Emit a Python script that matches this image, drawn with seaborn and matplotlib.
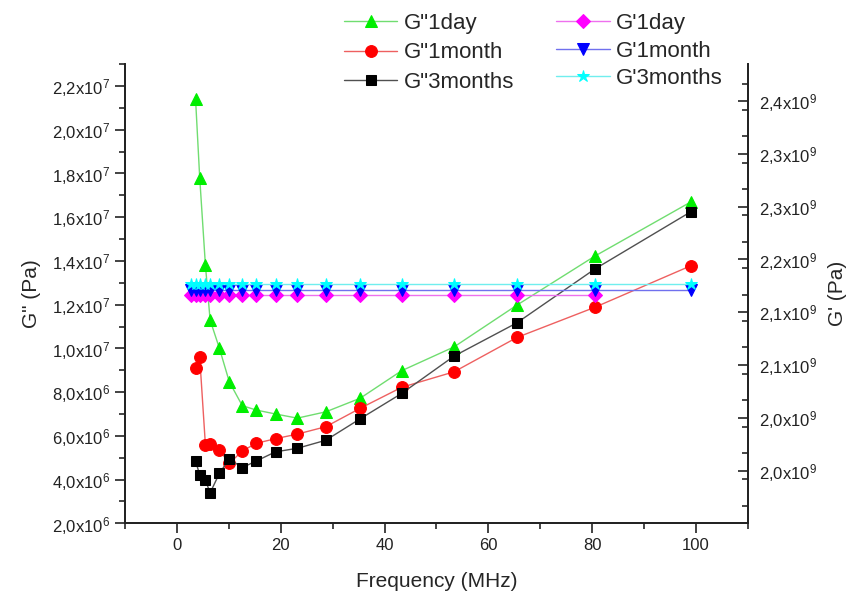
import numpy as np
import pandas as pd
import seaborn as sns
import matplotlib.pyplot as plt
from matplotlib.ticker import FixedLocator, FixedFormatter, MultipleLocator

# frequencies (MHz)
freq = [3.6, 4.4, 5.5, 6.4, 8.2, 10.1, 12.6, 15.3, 19.0, 23.2, 28.7, 35.3, 43.3, 53.4, 65.5, 80.5, 99.0]
freq_gp = [2.8, 3.6, 4.4, 5.5, 6.4, 8.2, 10.1, 12.6, 15.3, 19.0, 23.2, 28.7, 35.3, 43.3, 53.4, 65.5, 80.5, 99.0]

# G'' (x1e6 Pa)
g2_1day = [21.4, 17.8, 13.8, 11.3, 10.0, 8.47, 7.38, 7.18, 7.00, 6.81, 7.10, 7.72, 8.98, 10.07, 11.98, 14.22, 16.70]
g2_1month = [9.09, 9.59, 5.57, 5.61, 5.35, 4.74, 5.31, 5.66, 5.87, 6.08, 6.42, 7.26, 8.22, 8.93, 10.5, 11.88, 13.78]
g2_3months = [4.86, 4.21, 3.98, 3.39, 4.29, 4.94, 4.55, 4.85, 5.27, 5.43, 5.80, 6.78, 7.94, 9.65, 11.17, 13.63, 16.25]

# G' (x1e9 Pa)
g1_1day = [2.160, 2.160, 2.160, 2.160, 2.160, 2.160, 2.160, 2.160, 2.160, 2.160, 2.160, 2.160, 2.160, 2.160, 2.160, 2.160, 2.160]
g1_1month = [2.165, 2.165, 2.165, 2.165, 2.165, 2.165, 2.165, 2.165, 2.165, 2.165, 2.165, 2.165, 2.165, 2.165, 2.165, 2.165, 2.165, 2.165]
g1_3months = [2.172, 2.172, 2.172, 2.172, 2.172, 2.172, 2.172, 2.172, 2.172, 2.172, 2.172, 2.172, 2.172, 2.172, 2.172, 2.172, 2.172, 2.172]

left_ticks = [2e6, 4e6, 6e6, 8e6, 1e7, 1.2e7, 1.4e7, 1.6e7, 1.8e7, 2.0e7, 2.2e7]
left_labels = ['2,0x10$^6$', '4,0x10$^6$', '6,0x10$^6$', '8,0x10$^6$', '1,0x10$^7$', '1,2x10$^7$',
               '1,4x10$^7$', '1,6x10$^7$', '1,8x10$^7$', '2,0x10$^7$', '2,2x10$^7$']
right_ticks = [2.38e9, 2.32e9, 2.26e9, 2.20e9, 2.14e9, 2.08e9, 2.02e9, 1.96e9]
right_labels = ['2,4x10$^9$', '2,3x10$^9$', '2,3x10$^9$', '2,2x10$^9$', '2,1x10$^9$', '2,1x10$^9$',
                '2,0x10$^9$', '2,0x10$^9$']

sns.set_style('ticks')
plt.rcParams['font.family'] = ['Liberation Sans', 'DejaVu Sans']
plt.rcParams['mathtext.default'] = 'regular'

fig = plt.figure(figsize=(8.5, 5.94), dpi=100)
ax = fig.add_axes([0.147, 0.119, 0.733, 0.773])
ax2 = ax.twinx()

s1 = [
    (g2_1day, 'G"1day', '^', '#00ee00', '#70dd70', 9),
    (g2_1month, 'G"1month', 'o', '#ff0000', '#ee6060', 8.5),
    (g2_3months, 'G"3months', 's', '#000000', '#505050', 7),
]
for vals, lab, mk, c, lc, ms in s1:
    sns.lineplot(x=freq, y=np.array(vals) * 1e6, ax=ax, color=lc, lw=1, marker=mk,
                 markersize=ms, markerfacecolor=c, markeredgecolor=c, label=lab, legend=False)

s2 = [
    (freq_gp[:-1], g1_1day, "G'1day", 'D', '#ff00ff', '#ee70ee', 7),
    (freq_gp, g1_1month, "G'1month", 'v', '#0000ff', '#7070ee', 8),
    (freq_gp, g1_3months, "G'3months", '*', '#00ffff', '#70eeee', 9),
]
for xs, vals, lab, mk, c, lc, ms in s2:
    sns.lineplot(x=xs, y=np.array(vals) * 1e9, ax=ax2, color=lc, lw=1, marker=mk,
                 markersize=ms, markerfacecolor=c, markeredgecolor=c, label=lab, legend=False)

ax.set_xlim(-10, 110)
ax.set_ylim(2e6, 2.3e7)
ax2.set_ylim(1.90e9, 2.422e9)

ax.xaxis.set_major_locator(MultipleLocator(20))
ax.xaxis.set_minor_locator(MultipleLocator(10))
ax.yaxis.set_major_locator(FixedLocator(left_ticks))
ax.yaxis.set_major_formatter(FixedFormatter(left_labels))
ax.yaxis.set_minor_locator(MultipleLocator(1e6))
ax2.yaxis.set_major_locator(FixedLocator(right_ticks))
ax2.yaxis.set_major_formatter(FixedFormatter(right_labels))
ax2.yaxis.set_minor_locator(MultipleLocator(0.03e9))

ax.tick_params(axis='both', which='major', direction='out', length=7, width=1.2, labelsize=12, colors='#222222')
ax.tick_params(axis='both', which='minor', direction='out', length=4, width=1.2)
ax2.tick_params(axis='y', which='major', direction='in', length=7, width=1.2, labelsize=12, colors='#222222', pad=8)
ax2.tick_params(axis='y', which='minor', direction='in', length=4, width=1.2)

for a in (ax, ax2):
    a.spines['top'].set_visible(False)
    for sp in ('left', 'right', 'bottom'):
        a.spines[sp].set_linewidth(1.3)
        a.spines[sp].set_color('#222222')

ax.set_xlabel('Frequency (MHz)', fontsize=15, labelpad=14)
ax.set_ylabel('G" (Pa)', fontsize=15, labelpad=8)
ax2.set_ylabel("G' (Pa)", fontsize=15, labelpad=8)

h1, l1 = ax.get_legend_handles_labels()
h2, l2 = ax2.get_legend_handles_labels()
fig.legend(h1, l1, loc='upper left', bbox_to_anchor=(0.381, 1.012), frameon=False, fontsize=16,
           handlelength=2.4, labelspacing=0.38, handletextpad=0.3)
fig.legend(h2, l2, loc='upper left', bbox_to_anchor=(0.631, 1.012), frameon=False, fontsize=16,
           handlelength=2.4, labelspacing=0.3, handletextpad=0.3)

fig.savefig('out.png', dpi=100)
